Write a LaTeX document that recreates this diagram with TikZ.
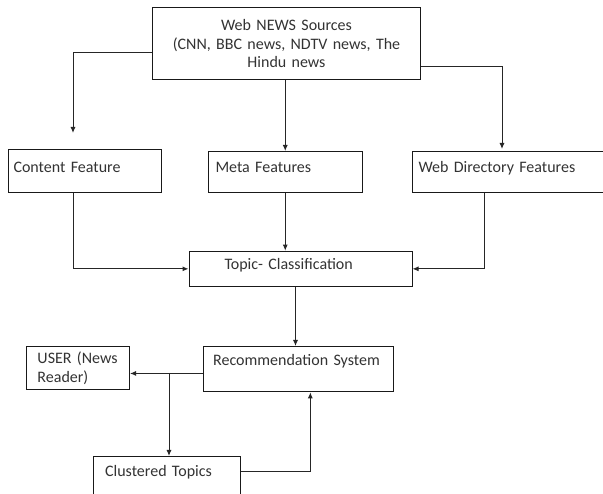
\documentclass[tikz,border=0pt]{standalone}
\usepackage{fontspec}
\setmainfont{Carlito}
\usepackage{tikz}
\usetikzlibrary{arrows.meta,calc,positioning}

\begin{document}
\begin{tikzpicture}[x=1pt,y=-1pt,
  box/.style={draw=black!90, line width=1pt, anchor=north west, align=left, inner ysep=0pt, text=black!80, text height=12pt, font=\fontsize{16}{18.5}\selectfont},
  arr/.style={draw=black!85, line width=1pt, -{Latex[length=6pt,width=5pt]}}]
\fill[white] (0,0) rectangle (603,494);
\path[use as bounding box, clip] (0,0) rectangle (603,494);
\node[box, align=center, inner xsep=4pt, text width=260pt, minimum height=72pt, text height=] (src) at (152,7.3) {Web NEWS Sources\\(CNN, BBC news, NDTV news, The\\Hindu news};
\node[box, inner xsep=5pt, text width=143pt, minimum height=43.3pt, text depth=10pt] (content) at (8,149) {Content Feature};
\node[box, inner xsep=7pt, text width=139.5pt, minimum height=41.3pt, text depth=12pt] (meta) at (208,151) {Meta Features};
\node[box, inner xsep=6.5pt, text width=207pt, minimum height=41.3pt, text depth=12pt] (wd) at (411.5,151) {Web Directory Features};
\node[box, inner xsep=35.5pt, text width=152pt, minimum height=35.3pt, text depth=10pt] (topic) at (188.5,250.7) {Topic- Classification};
\node[box, inner xsep=10pt, text width=170.3pt, minimum height=45.3pt, text depth=19pt] (rec) at (202.7,346) {Recommendation System};
\node[box, inner xsep=11pt, text width=81pt, minimum height=43.3pt, text height=] (user) at (26,346) {USER (News\\Reader)};
\node[box, inner xsep=11.6pt, text width=123.8pt, minimum height=45pt, text depth=18pt] (clus) at (93,456) {Clustered Topics};
\coordinate (cftip) at (73,133);
\coordinate (wdtip) at (502,149);
\coordinate (brx) at (169,373);
\draw[arr] ($(src.west)+(0,9)$) -| (cftip);
\draw[arr] (meta.north |- src.south) -- (meta.north);
\draw[arr] ($(src.east)+(0,22.4)$) -| (wdtip);
\draw[arr] ($(content.south)+(-11.5,0)$) |- (topic.west);
\draw[arr] (meta.south) -- (meta.south |- topic.north);
\draw[arr] ($(wd.south west)+(72.5,0)$) |- (topic.east);
\draw[arr] ($(topic.south)+(-5,0)$) coordinate (tc) -- (tc |- rec.north);
\draw[arr] ($(rec.west)+(0,4.3)$) coordinate (rw) -- (rw -| user.east);
\draw[arr] (brx) -- (brx |- clus.north);
\draw[arr] ($(clus.north east)+(0,15.3)$) -| ($(rec.south)+(12,0)$);
\end{tikzpicture}
\end{document}
